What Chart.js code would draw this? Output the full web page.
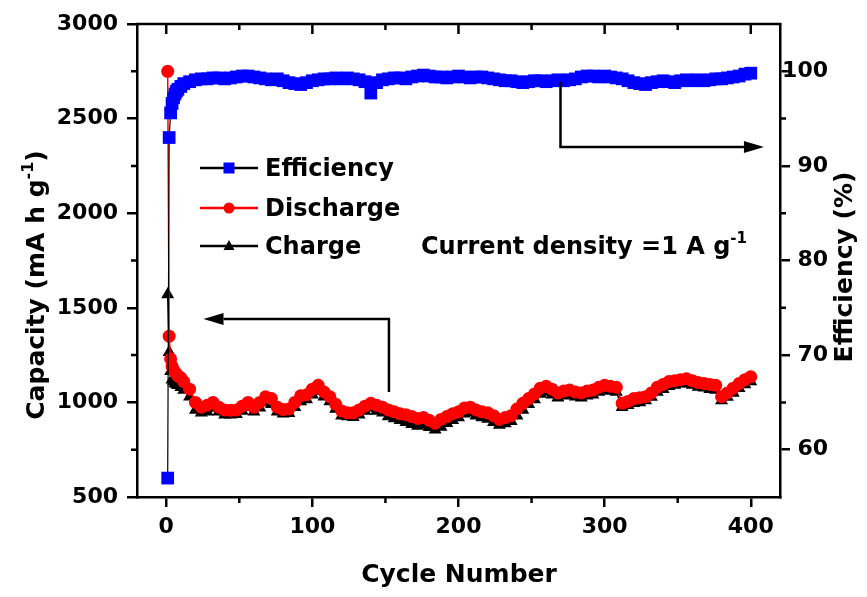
<!DOCTYPE html>
<html>
<head>
<meta charset="utf-8">
<script src="https://cdn.jsdelivr.net/npm/chart.js@4.4.1/dist/chart.umd.min.js"></script>
<style>
  html, body { margin: 0; padding: 0; background: #fff; }
  #wrap { width: 867px; height: 597px; }
</style>
</head>
<body>
<div id="wrap"><canvas id="grafik" width="867" height="597"></canvas></div>
<script>
// data
const cycles = [1, 2, 3, 4, 5, 6, 7, 8, 10, 12,
  16, 20, 24, 28, 32, 36, 40, 44, 48, 52,
  56, 60, 64, 68, 72, 76, 80, 84, 88, 92,
  96, 100, 104, 108, 112, 116, 120, 124, 128, 132,
  136, 140, 144, 148, 152, 156, 160, 164, 168, 172,
  176, 180, 184, 188, 192, 196, 200, 204, 208, 212,
  216, 220, 224, 228, 232, 236, 240, 244, 248, 252,
  256, 260, 264, 268, 272, 276, 280, 284, 288, 292,
  296, 300, 304, 308, 312, 316, 320, 324, 328, 332,
  336, 340, 344, 348, 352, 356, 360, 364, 368, 372,
  376, 380, 384, 388, 392, 396, 400]
const discharge = [2750, 1350, 1230, 1190, 1170, 1160, 1150, 1140, 1130, 1110,
  1070, 1000, 975, 985, 1000, 975, 960, 958, 960, 980,
  1000, 975, 1000, 1030, 1020, 975, 962, 965, 1000, 1035,
  1040, 1070, 1090, 1055, 1030, 990, 955, 945, 945, 960,
  980, 995, 985, 975, 960, 950, 940, 935, 925, 915,
  920, 905, 890, 910, 925, 940, 950, 970, 975, 960,
  950, 945, 930, 910, 920, 930, 965, 995, 1020, 1045,
  1075, 1085, 1070, 1050, 1060, 1065, 1055, 1050, 1060, 1065,
  1080, 1090, 1085, 1080, 995, 1005, 1020, 1025, 1030, 1050,
  1080, 1095, 1110, 1115, 1120, 1125, 1115, 1105, 1100, 1095,
  1090, 1030, 1050, 1075, 1100, 1120, 1135]
const charge = [1570, 1265, 1165, 1120, 1110, 1100, 1095, 1090, 1080, 1065,
  1030, 960, 945, 950, 970, 950, 935, 935, 938, 955,
  975, 950, 972, 1000, 990, 950, 940, 942, 975, 1005,
  1015, 1040, 1060, 1030, 1005, 965, 930, 925, 922, 935,
  955, 970, 955, 945, 925, 915, 905, 895, 885, 875,
  880, 868, 855, 870, 890, 905, 920, 940, 945, 930,
  920, 912, 895, 880, 888, 900, 930, 960, 990, 1015,
  1045, 1055, 1040, 1025, 1035, 1040, 1030, 1025, 1035, 1040,
  1055, 1065, 1060, 1055, 975, 985, 995, 1000, 1010, 1028,
  1055, 1070, 1085, 1092, 1098, 1100, 1092, 1082, 1078, 1070,
  1065, 1010, 1028, 1050, 1075, 1095, 1110]
const efficiency = [57.0, 93.0, 95.6, 96.6, 97.2, 97.6, 97.9, 98.1, 98.4, 98.7,
  98.9, 99.1, 99.2, 99.2, 99.3, 99.3, 99.2, 99.3, 99.4, 99.5,
  99.5, 99.4, 99.3, 99.2, 99.1, 99.2, 99.0, 98.8, 98.7, 98.6,
  98.8, 99.0, 99.1, 99.2, 99.2, 99.3, 99.2, 99.3, 99.2, 99.1,
  98.9, 97.7, 98.8, 99.1, 99.2, 99.3, 99.3, 99.2, 99.4, 99.5,
  99.6, 99.5, 99.4, 99.4, 99.3, 99.4, 99.5, 99.4, 99.3, 99.4,
  99.4, 99.3, 99.2, 99.1, 99.0, 99.0, 98.9, 98.8, 98.9, 99.0,
  99.0, 98.9, 99.0, 99.1, 99.0, 99.1, 99.2, 99.4, 99.5, 99.5,
  99.4, 99.5, 99.4, 99.3, 99.2, 99.0, 98.8, 98.7, 98.6, 98.8,
  98.9, 99.0, 98.9, 98.8, 99.0, 99.1, 99.0, 99.1, 99.0, 99.1,
  99.2, 99.2, 99.3, 99.4, 99.5, 99.7, 99.8]

const cycleTicks = [0, 100, 200, 300, 400]
const cycleMinor = [50, 150, 250, 350]
const capTicks = [500, 1000, 1500, 2000, 2500, 3000]
const capMinor = [750, 1250, 1750, 2250, 2750]
const effTicks = [60, 70, 80, 90, 100]
const effMinor = [65, 75, 85, 95]

// arrow paths in data units: [cycle, value]
const effArrow = [[269.8, 98.9], [269.8, 92.0], [409, 92.0]]
const capArrow = [[152.4, 1055], [152.4, 1441], [25.5, 1441]]

const FONT = 'DejaVu Sans'
Chart.defaults.font.family = FONT
Chart.defaults.color = '#000'

function pts(ys) {
  return cycles.map((c, i) => ({x: c, y: ys[i]}))
}

function marker(ctx, style, x, y, color) {
  ctx.fillStyle = color
  ctx.beginPath()
  if (style === 'rect') {
    ctx.rect(x - 5.5, y - 5.5, 11, 11)
  } else if (style === 'circle') {
    ctx.arc(x, y, 5.5, 0, Math.PI * 2)
  } else {
    ctx.moveTo(x, y - 6)
    ctx.lineTo(x + 5.5, y + 4)
    ctx.lineTo(x - 5.5, y + 4)
    ctx.closePath()
  }
  ctx.fill()
}

// text with a superscript part, left aligned at x
function supText(ctx, parts, x, y, size) {
  let cx = x
  parts.forEach(p => {
    const fs = p.sup ? Math.round(size * 0.62) : size
    ctx.font = 'bold ' + fs + 'px ' + FONT
    ctx.fillText(p.t, cx, p.sup ? y - size * 0.45 : y)
    cx += ctx.measureText(p.t).width
  })
  return cx - x
}
function supWidth(ctx, parts, size) {
  let w = 0
  parts.forEach(p => {
    ctx.font = 'bold ' + (p.sup ? Math.round(size * 0.62) : size) + 'px ' + FONT
    w += ctx.measureText(p.t).width
  })
  return w
}

function drawArrow(ctx, path, xs, ys) {
  const p = path.map(q => [xs.getPixelForValue(q[0]), ys.getPixelForValue(q[1])])
  const n = p.length
  const dir = Math.sign(p[n - 1][0] - p[n - 2][0])
  const headLen = 20, headW = 6
  ctx.beginPath()
  ctx.moveTo(p[0][0], p[0][1])
  for (let i = 1; i < n - 1; i++) ctx.lineTo(p[i][0], p[i][1])
  ctx.lineTo(p[n - 1][0] - dir * headLen, p[n - 1][1])
  ctx.stroke()
  ctx.beginPath()
  ctx.moveTo(p[n - 1][0], p[n - 1][1])
  ctx.lineTo(p[n - 1][0] - dir * headLen, p[n - 1][1] - headW)
  ctx.lineTo(p[n - 1][0] - dir * headLen, p[n - 1][1] + headW)
  ctx.closePath()
  ctx.fill()
}

const extras = {
  id: 'extras',
  afterDatasetsDraw(chart) {
    const {ctx, chartArea: a, scales: {x, y, y2}} = chart
    ctx.save()
    ctx.strokeStyle = '#000'
    ctx.fillStyle = '#000'
    ctx.lineWidth = 2.5
    // top frame + inward ticks, minor ticks
    ctx.beginPath()
    ctx.moveTo(a.left - 1.25, a.top)
    ctx.lineTo(a.right + 1.25, a.top)
    cycleTicks.forEach(v => {
      const px = x.getPixelForValue(v)
      ctx.moveTo(px, a.top); ctx.lineTo(px, a.top + 10)
    })
    cycleMinor.forEach(v => {
      const px = x.getPixelForValue(v)
      ctx.moveTo(px, a.top); ctx.lineTo(px, a.top + 6)
      ctx.moveTo(px, a.bottom); ctx.lineTo(px, a.bottom + 6)
    })
    capMinor.forEach(v => {
      const py = y.getPixelForValue(v)
      ctx.moveTo(a.left, py); ctx.lineTo(a.left - 6, py)
    })
    effMinor.forEach(v => {
      const py = y2.getPixelForValue(v)
      ctx.moveTo(a.right, py); ctx.lineTo(a.right + 6, py)
    })
    ctx.stroke()

    // arrows
    drawArrow(ctx, effArrow, x, y2)
    drawArrow(ctx, capArrow, x, y)

    // legend
    const rows = [
      {ds: chart.data.datasets[0], y: 168, base: 176},
      {ds: chart.data.datasets[1], y: 208, base: 216},
      {ds: chart.data.datasets[2], y: 246, base: 254}
    ]
    rows.forEach(r => {
      ctx.strokeStyle = r.ds.borderColor
      ctx.lineWidth = 2.5
      ctx.beginPath()
      ctx.moveTo(200, r.y); ctx.lineTo(258, r.y)
      ctx.stroke()
      marker(ctx, r.ds.pointStyle, 229, r.y, r.ds.pointBackgroundColor)
      ctx.fillStyle = '#000'
      ctx.font = 'bold 24px ' + FONT
      ctx.textAlign = 'left'
      ctx.textBaseline = 'alphabetic'
      ctx.fillText(r.ds.label, 265, r.base)
    })

    ctx.textAlign = 'left'
    ctx.textBaseline = 'alphabetic'
    supText(ctx, [{t: 'Current density =1 A g'}, {t: '-1', sup: true}], 421, 254, 24)

    // axis titles
    ctx.font = 'bold 25px ' + FONT
    ctx.textAlign = 'center'
    ctx.fillText('Cycle Number', 459, 582)

    const capTitle = [{t: 'Capacity (mA h g'}, {t: '-1', sup: true}, {t: ')'}]
    ctx.save()
    ctx.translate(44, 285)
    ctx.rotate(-Math.PI / 2)
    ctx.textAlign = 'left'
    supText(ctx, capTitle, -supWidth(ctx, capTitle, 25) / 2, 0, 25)
    ctx.restore()

    ctx.save()
    ctx.translate(852, 267)
    ctx.rotate(-Math.PI / 2)
    ctx.textAlign = 'center'
    ctx.font = 'bold 25px ' + FONT
    ctx.fillText('Efficiency (%)', 0, 0)
    ctx.restore()

    ctx.restore()
  }
}

const tickFont = {size: 22, weight: 'bold'}
const plain = v => String(v)
const axisGrid = {display: true, drawOnChartArea: false, drawTicks: true, tickLength: 10, lineWidth: 2.5, color: '#000'}
const axisBorder = {display: true, width: 2.5, color: '#000'}

new Chart(document.getElementById('grafik'), {
  type: 'line',
  data: {
    datasets: [{
      label: 'Efficiency',
      data: pts(efficiency),
      yAxisID: 'y2',
      borderColor: '#000',
      borderWidth: 1.2,
      pointStyle: 'rect',
      pointRadius: 9,
      pointBackgroundColor: '#0000ff',
      pointBorderColor: '#0000ff',
      pointBorderWidth: 0
    }, {
      label: 'Discharge',
      data: pts(discharge),
      yAxisID: 'y',
      borderColor: '#ff0000',
      borderWidth: 1.5,
      pointStyle: 'circle',
      pointRadius: 6.5,
      pointBackgroundColor: '#ff0000',
      pointBorderColor: '#ff0000',
      pointBorderWidth: 0
    }, {
      label: 'Charge',
      data: pts(charge),
      yAxisID: 'y',
      borderColor: '#000',
      borderWidth: 1.5,
      pointStyle: 'triangle',
      pointRadius: 7.5,
      pointBackgroundColor: '#000',
      pointBorderColor: '#000',
      pointBorderWidth: 0
    }]
  },
  options: {
    responsive: false,
    animation: false,
    devicePixelRatio: 1,
    layout: {padding: {top: 24, right: 39, left: 0, bottom: 0}},
    plugins: {legend: {display: false}, tooltip: {enabled: false}},
    scales: {
      x: {
        type: 'linear',
        min: -20, max: 420,
        afterBuildTicks: s => { s.ticks = cycleTicks.map(v => ({value: v})) },
        afterFit: s => { s.height = 100 },
        grid: axisGrid,
        border: axisBorder,
        ticks: {font: tickFont, padding: 7, maxRotation: 0, callback: plain}
      },
      y: {
        position: 'left',
        min: 500, max: 3000,
        afterBuildTicks: s => { s.ticks = capTicks.map(v => ({value: v})) },
        afterFit: s => { s.width = 137 },
        grid: axisGrid,
        border: axisBorder,
        ticks: {font: tickFont, padding: 9, callback: plain}
      },
      y2: {
        position: 'right',
        min: 55, max: 105,
        afterBuildTicks: s => { s.ticks = effTicks.map(v => ({value: v})) },
        afterFit: s => { s.width = 48 },
        grid: axisGrid,
        border: axisBorder,
        ticks: {font: tickFont, padding: 8, crossAlign: 'far', callback: plain}
      }
    }
  },
  plugins: [extras]
})
</script>
</body>
</html>
